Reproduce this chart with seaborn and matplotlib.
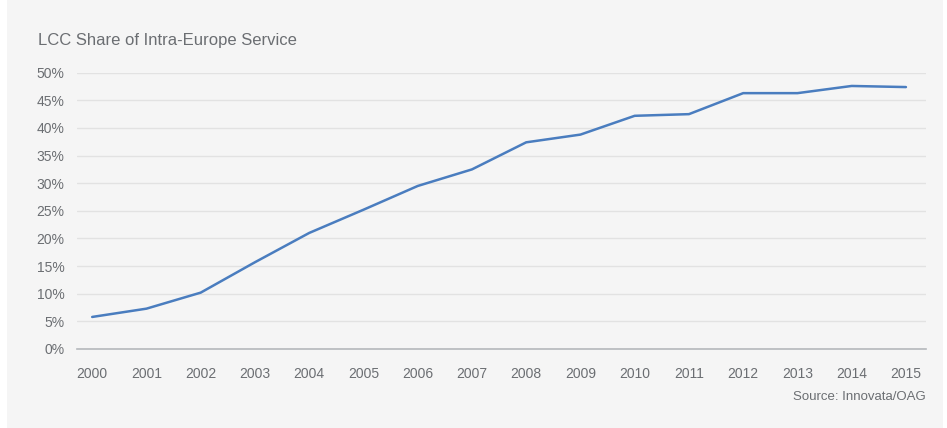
import matplotlib
matplotlib.use("Agg")
import matplotlib.pyplot as plt
import seaborn as sns
import pandas as pd
from matplotlib.patches import Rectangle
from matplotlib.ticker import FuncFormatter

# Data
years = list(range(2000, 2016))
lcc_share = [5.8, 7.3, 10.2, 15.7, 21.0, 25.2, 29.5, 32.5,
             37.4, 38.8, 42.2, 42.5, 46.3, 46.3, 47.6, 47.4]

df = pd.DataFrame({"Year": years, "Share": lcc_share})

sns.set_style("white")
plt.rcParams["font.family"] = ["Liberation Sans", "DejaVu Sans"]

bg = "#f5f5f5"
text_col = "#6b6e72"

fig = plt.figure(figsize=(9.47, 4.28), dpi=100)
fig.patch.set_facecolor("white")
# gray panel behind the chart
fig.patches.append(Rectangle((7 / 947, 0), 936 / 947, 1, transform=fig.transFigure,
                             facecolor=bg, edgecolor="none", zorder=-10))

ax = fig.add_axes([77 / 947, 1 - 349 / 428, (926 - 77) / 947, (349 - 72.7) / 428])
ax.set_facecolor(bg)

sns.lineplot(data=df, x="Year", y="Share", ax=ax, color="#4a7dbf", linewidth=1.8)

ax.set_ylim(0, 50)
ax.set_xlim(1999.72, 2015.37)
ax.set_yticks(range(0, 51, 5))
ax.set_xticks(years)
ax.yaxis.set_major_formatter(FuncFormatter(lambda v, p: f"{int(v)}%"))

ax.grid(axis="y", color="#e2e2e2", linewidth=1)
ax.grid(axis="x", visible=False)
for side in ["top", "right", "left"]:
    ax.spines[side].set_visible(False)
ax.spines["bottom"].set_color("#b5b8bc")
ax.spines["bottom"].set_linewidth(1.2)

ax.tick_params(axis="x", length=4, color="#b5b8bc", pad=9, labelsize=10, labelcolor=text_col)
ax.tick_params(axis="y", length=0, pad=9, labelsize=10, labelcolor=text_col)
ax.set_xlabel("")
ax.set_ylabel("")

fig.text(38 / 947, 1 - 41 / 428, "LCC Share of Intra-Europe Service",
         fontsize=12, color=text_col, va="center", ha="left")
fig.text(926 / 947, 1 - 397 / 428, "Source: Innovata/OAG",
         fontsize=9.5, color=text_col, va="center", ha="right")

fig.savefig("out.png", dpi=100, facecolor=fig.get_facecolor())
